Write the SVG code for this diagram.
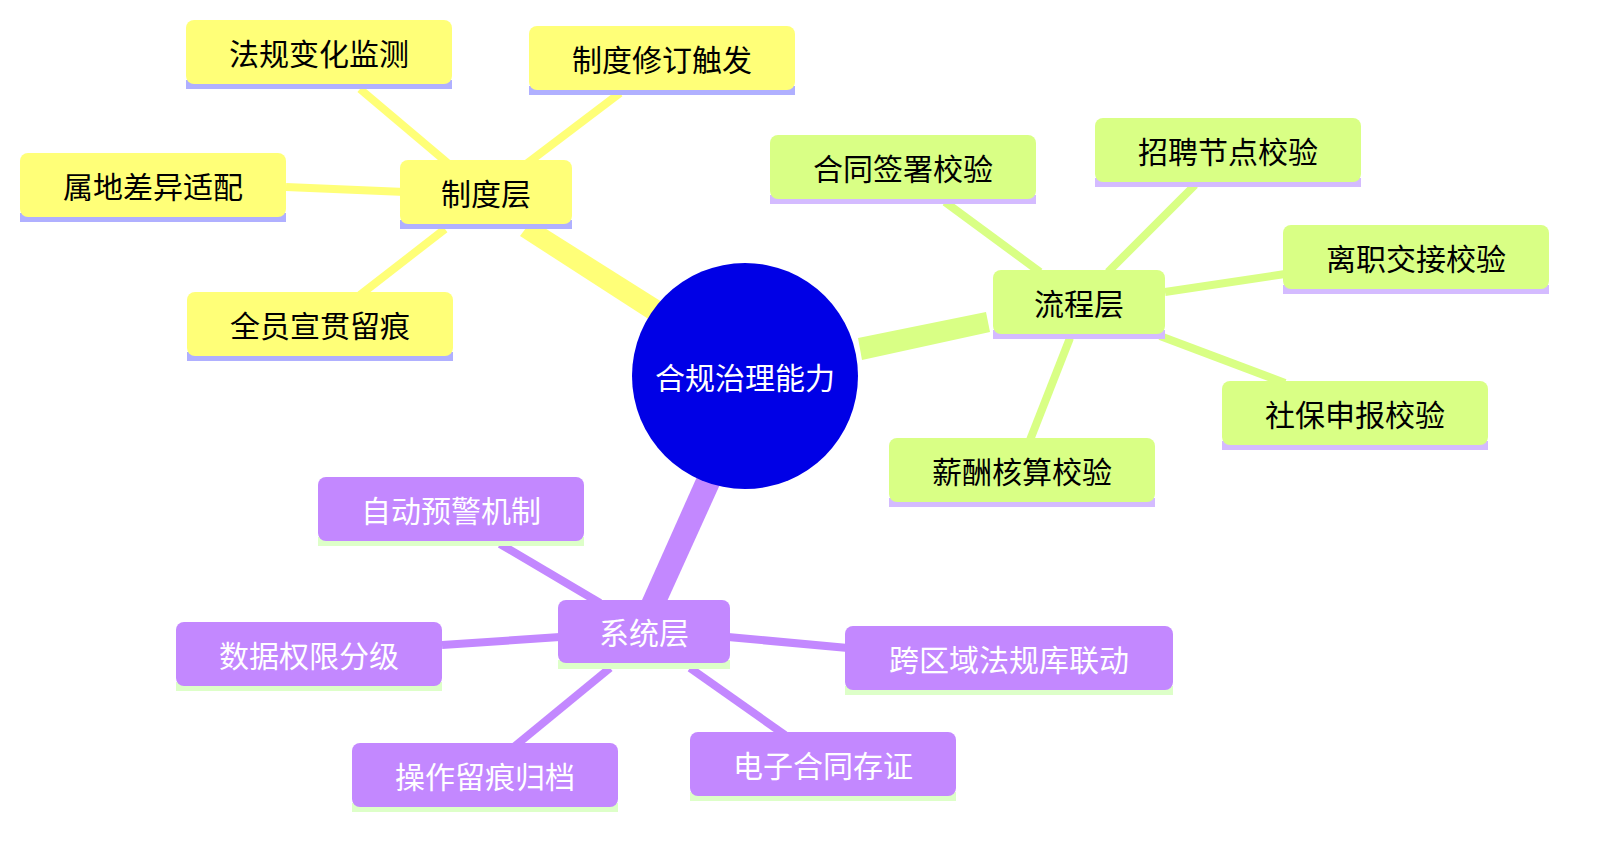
<svg xmlns="http://www.w3.org/2000/svg" width="1599" height="844" viewBox="0 0 1599 844">
<style>
text{font-family:"Noto Sans CJK SC","Noto Sans",sans-serif;font-size:30px;text-anchor:middle;dominant-baseline:central}
.y rect.b{fill:#ffff78}.y rect.u{fill:#b0b0ff}.y text{fill:#000}
.g rect.b{fill:#d9ff85}.g rect.u{fill:#d4bbff}.g text{fill:#000}
.p rect.b{fill:#c388ff}.p rect.u{fill:#ddffc8}.p text{fill:#fff}
.ey{stroke:#ffff78}.eg{stroke:#d9ff85}.ep{stroke:#c388ff}
line{stroke-linecap:butt}
</style>
<rect width="1599" height="844" fill="#fff"/>
<g id="connectors" stroke-width="8">
<polygon points="662,302 650,320 520,236 532,220" fill="#ffff78"/>
<polygon points="858,338 862,360 990,332 986,312" fill="#d9ff85"/>
<polygon points="700,470 722,480 664,608 642,600" fill="#c388ff"/>
<line class="ey" x1="450" y1="165" x2="360" y2="89"/>
<line class="ey" x1="525" y1="165" x2="620" y2="93"/>
<line class="ey" x1="405" y1="192" x2="286" y2="187"/>
<line class="ey" x1="445" y1="229" x2="360" y2="295"/>
<line class="eg" x1="1040" y1="272" x2="945" y2="202"/>
<line class="eg" x1="1108" y1="272" x2="1195" y2="185"/>
<line class="eg" x1="1165" y1="292" x2="1285" y2="274"/>
<line class="eg" x1="1160" y1="336" x2="1285" y2="383"/>
<line class="eg" x1="1070" y1="338" x2="1030" y2="440"/>
<line class="ep" x1="600" y1="603" x2="500" y2="544"/>
<line class="ep" x1="560" y1="637" x2="442" y2="645"/>
<line class="ep" x1="728" y1="637" x2="848" y2="648"/>
<line class="ep" x1="610" y1="668" x2="515" y2="746"/>
<line class="ep" x1="690" y1="668" x2="785" y2="735"/>
</g>
<g id="center"><circle cx="745" cy="376" r="113" fill="#0000e6"/><text x="745" y="376" fill="#fff">合规治理能力</text></g>
<g id="n-zhidu" class="y"><rect class="u" x="400" y="220" width="172" height="9"/><rect class="b" x="400" y="160" width="172" height="64" rx="8"/><text x="486" y="192">制度层</text></g>
<g id="n-fagui" class="y"><rect class="u" x="186" y="80" width="266" height="9"/><rect class="b" x="186" y="20" width="266" height="64" rx="8"/><text x="319" y="52">法规变化监测</text></g>
<g id="n-xiuding" class="y"><rect class="u" x="529" y="86" width="266" height="9"/><rect class="b" x="529" y="26" width="266" height="64" rx="8"/><text x="662" y="58">制度修订触发</text></g>
<g id="n-shudi" class="y"><rect class="u" x="20" y="213" width="266" height="9"/><rect class="b" x="20" y="153" width="266" height="64" rx="8"/><text x="153" y="185">属地差异适配</text></g>
<g id="n-quanyuan" class="y"><rect class="u" x="187" y="352" width="266" height="9"/><rect class="b" x="187" y="292" width="266" height="64" rx="8"/><text x="320" y="324">全员宣贯留痕</text></g>
<g id="n-liucheng" class="g"><rect class="u" x="993" y="330" width="172" height="9"/><rect class="b" x="993" y="270" width="172" height="64" rx="8"/><text x="1079" y="302">流程层</text></g>
<g id="n-hetong" class="g"><rect class="u" x="770" y="195" width="266" height="9"/><rect class="b" x="770" y="135" width="266" height="64" rx="8"/><text x="903" y="167">合同签署校验</text></g>
<g id="n-zhaopin" class="g"><rect class="u" x="1095" y="178" width="266" height="9"/><rect class="b" x="1095" y="118" width="266" height="64" rx="8"/><text x="1228" y="150">招聘节点校验</text></g>
<g id="n-lizhi" class="g"><rect class="u" x="1283" y="285" width="266" height="9"/><rect class="b" x="1283" y="225" width="266" height="64" rx="8"/><text x="1416" y="257">离职交接校验</text></g>
<g id="n-shebao" class="g"><rect class="u" x="1222" y="441" width="266" height="9"/><rect class="b" x="1222" y="381" width="266" height="64" rx="8"/><text x="1355" y="413">社保申报校验</text></g>
<g id="n-xinchou" class="g"><rect class="u" x="889" y="498" width="266" height="9"/><rect class="b" x="889" y="438" width="266" height="64" rx="8"/><text x="1022" y="470">薪酬核算校验</text></g>
<g id="n-xitong" class="p"><rect class="u" x="558" y="660" width="172" height="9"/><rect class="b" x="558" y="600" width="172" height="63" rx="8"/><text x="644" y="631">系统层</text></g>
<g id="n-yujing" class="p"><rect class="u" x="318" y="537" width="266" height="9"/><rect class="b" x="318" y="477" width="266" height="64" rx="8"/><text x="451" y="509">自动预警机制</text></g>
<g id="n-quanxian" class="p"><rect class="u" x="176" y="682" width="266" height="9"/><rect class="b" x="176" y="622" width="266" height="64" rx="8"/><text x="309" y="654">数据权限分级</text></g>
<g id="n-kuaquyu" class="p"><rect class="u" x="845" y="686" width="328" height="9"/><rect class="b" x="845" y="626" width="328" height="64" rx="8"/><text x="1009" y="658">跨区域法规库联动</text></g>
<g id="n-caozuo" class="p"><rect class="u" x="352" y="803" width="266" height="9"/><rect class="b" x="352" y="743" width="266" height="64" rx="8"/><text x="485" y="775">操作留痕归档</text></g>
<g id="n-dianzi" class="p"><rect class="u" x="690" y="792" width="266" height="9"/><rect class="b" x="690" y="732" width="266" height="64" rx="8"/><text x="823" y="764">电子合同存证</text></g>
</svg>
